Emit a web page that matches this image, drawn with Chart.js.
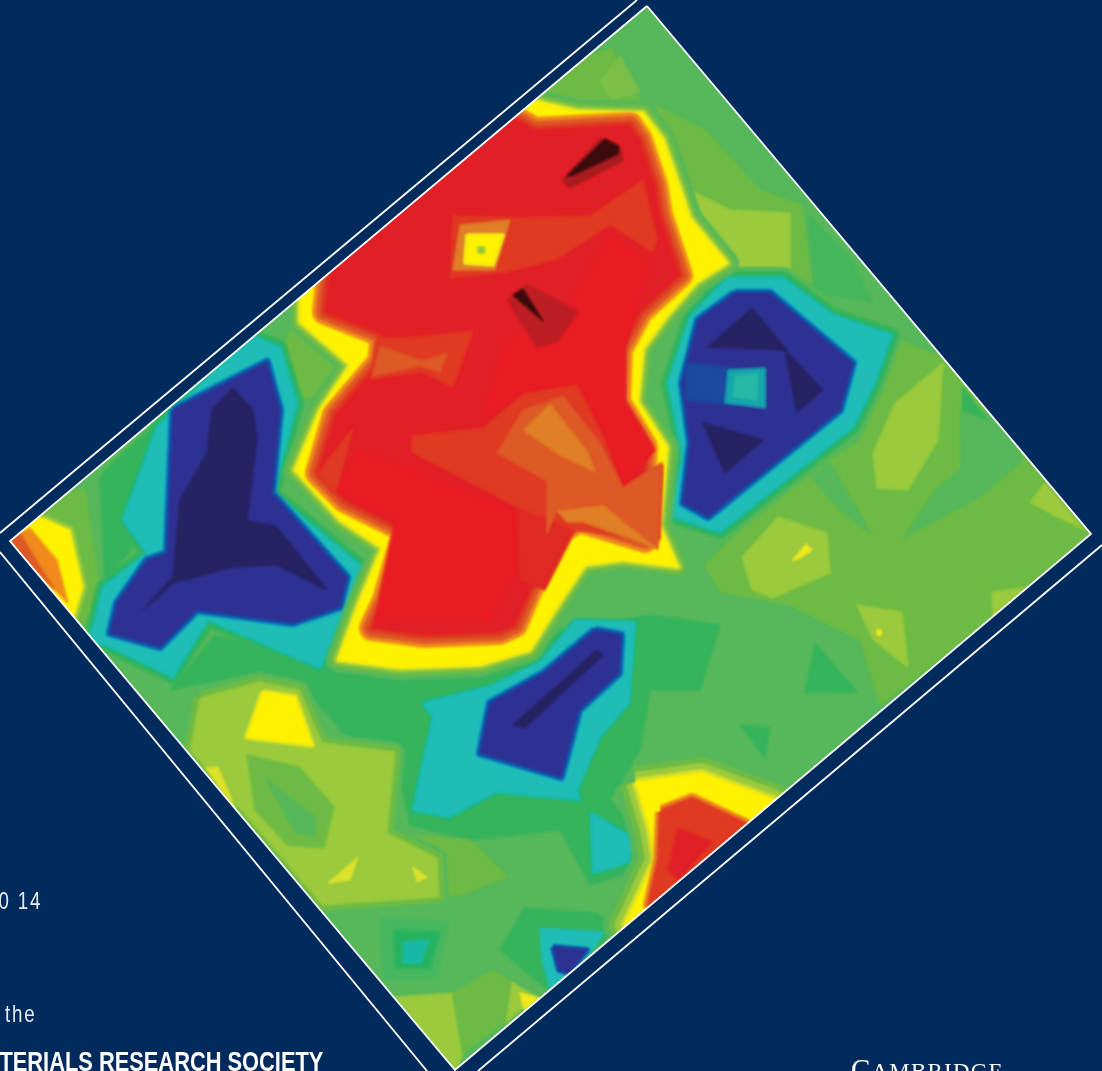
<!DOCTYPE html>
<html>
<head>
<meta charset="utf-8">
<title>Contour map cover</title>
<script src="https://cdn.jsdelivr.net/npm/chart.js@4/dist/chart.umd.min.js"></script>
<style>
html, body { margin: 0; padding: 0; background: #012b5d; overflow: hidden; }
#wrap { position: relative; width: 1102px; height: 1071px; overflow: hidden; }
#map { display: block; }
.t { position: absolute; color: #e8edf3; white-space: nowrap; }
.thin { font: 24px "Liberation Sans", sans-serif; letter-spacing: 2.4px; transform: scaleX(.78); transform-origin: right top; }
</style>
</head>
<body>
<div id="wrap">
  <canvas id="map" width="1102" height="1071"></canvas>
  <div class="t thin" style="right:1060px;top:887px">0 14</div>
  <div class="t thin" style="right:1065px;top:1000px">the</div>
  <div class="t" style="right:779px;top:1046px;color:#fff;font:bold 28px 'Liberation Sans',sans-serif;transform:scaleX(.78);transform-origin:right top">TERIALS RESEARCH SOCIETY</div>
  <div class="t" style="left:851px;top:1053px;color:#fff;font:23px 'Liberation Serif',serif;letter-spacing:1.2px"><span style="font-size:29px">C</span>AMBRIDGE</div>
</div>
<script>
// contour levels, low to high
const g1 = '#9bca3c', g2 = '#6dbb45', g3 = '#56b85b', g4 = '#35b45c';
const teal = '#1fbdb8', blueEdge = '#0d5bac', indigo = '#2e3192', darkIndigo = '#272262';
const yellow = '#fff200', amber = '#f08a1c', orange = '#e07f26', orange2 = '#dd5a26', orange3 = '#e03a22';
const red = '#e21f26', brightRed = '#e91c24', darkRed = '#bd1e24', black = '#3b0b0c';

// plot frame
const frameCorners = [[647,6],[1091,534],[455,1070],[10,541]];
const outerRuleA = [[0,533],[637,0]];
const outerRuleB = [[0,552],[427,1071]];
const outerRuleC = [[478,1071],[1102,545]];

// background levels
const basePlane = [[647,-20],[1120,534],[455,1100],[-20,541]];
const topLeftPatch = [[520,100],[575,60],[612,48],[640,100],[600,106]];
const topTip = [[600,82],[620,56],[640,92],[612,100]];
const upperRightG2 = [[655,105],[705,130],[760,190],[802,205],[812,282],[735,282],[690,225]];
const upperRightG1 = [[690,190],[730,210],[790,213],[790,268],[725,268]];
const rimG4 = [[808,215],[850,258],[872,302],[815,292]];
const rightPlane = [[705,565],[740,530],[800,480],[860,440],[898,340],[945,358],[1110,534],[880,705],[860,640],[790,605],[720,592]];
const rightG3a = [[903,538],[980,497],[1023,460],[1000,415],[960,408],[961,467],[933,493]];
const rightG4 = [[963,410],[987,420],[963,387]];
const rightG3b = [[810,477],[830,462],[872,535],[840,510]];
const rightG1a = [[895,403],[943,363],[938,440],[908,490],[877,488],[873,453]];
const rightG1b = [[1030,502],[1045,483],[1085,530],[1057,517]];
const hexG1 = [[742,557],[778,517],[827,533],[830,573],[773,598],[752,590]];
const hexSpot = [[792,561],[806,544],[812,550],[800,558]];
const lowG1 = [[857,605],[902,612],[908,667],[873,640]];
const lowDot = [[877,630],[881,630],[881,635],[877,635]];
const edgeG1 = [[992,592],[1028,587],[993,617]];
const smallG4a = [[815,643],[857,692],[805,693]];
const smallG4b = [[740,725],[770,728],[765,758]];

// far left corner
const leftG4 = [[160,420],[125,520],[132,548],[105,582],[100,480],[105,470]];
const leftG2 = [[85,490],[100,590],[85,625],[70,610],[40,515],[70,490]];
const cornerYellow = [[40,517],[70,530],[83,587],[73,620],[5,540]];
const cornerAmber = [[30,528],[57,560],[68,603],[5,540]];
const cornerOrange = [[20,533],[42,570],[55,590],[5,540]];

// lower left high ground
const lowerG1 = [[200,698],[259,682],[299,690],[322,743],[395,752],[387,833],[437,858],[439,897],[322,905],[190,750]];
const lowerG2 = [[387,833],[470,840],[508,877],[460,895],[330,912],[300,890]];
const lowerYellow = [[263,692],[295,697],[312,745],[247,737]];
const lowerPit = [[247,755],[299,767],[334,807],[324,848],[287,845],[255,810]];
const lowerPit2 = [[267,780],[316,818],[314,837],[295,832]];
const spotA = [[328,883],[358,857],[350,880]];
const spotB = [[413,867],[427,877],[417,882]];
const spotC = [[206,768],[218,767],[239,817]];
const tipG1 = [[395,997],[453,993],[463,1053],[455,1075]];
const tipG2 = [[453,993],[492,970],[512,982],[504,1023],[476,1043],[463,1053]];
const tipG1b = [[512,982],[536,997],[506,1023]];
const tipSpot = [[520,993],[540,998],[524,1010]];
const pitRing = [[380,918],[449,922],[437,978],[384,980]];
const pitG4 = [[394,930],[440,932],[430,968],[395,968]];
const pitTeal = [[403,942],[429,940],[421,963],[403,963]];
const edgeG3 = [[338,927],[362,925],[354,947]];
const holeG4 = [[524,908],[595,913],[620,927],[548,990],[500,950]];
const holeTeal = [[540,928],[605,932],[591,953],[550,990],[542,960]];
const holeIndigo = [[553,947],[587,950],[569,973],[559,970]];

// central low
const centreG4 = [[170,690],[215,635],[345,670],[530,660],[560,630],[650,615],[720,625],[700,690],[650,690],[640,750],[610,800],[635,830],[640,870],[590,885],[560,830],[470,840],[410,825],[395,760],[345,735],[315,700],[260,672],[195,685]];
const centreTeal = [[575,620],[635,622],[629,703],[600,737],[577,790],[580,800],[496,792],[449,817],[413,810],[433,717],[423,703],[488,687],[540,662]];
const sideTeal = [[591,813],[633,838],[629,862],[593,873]];
const centreIndigo = [[595,630],[621,635],[619,673],[579,710],[561,777],[480,753],[490,703],[544,673]];
const centreStreak = [[597,650],[603,655],[525,728],[513,725]];

// left low
const wedgeG2 = [[297,310],[360,350],[320,395],[297,400],[285,345]];
const leftTeal = [[250,335],[280,347],[297,403],[273,493],[362,567],[343,613],[320,668],[208,620],[173,677],[117,650],[90,640],[103,587],[147,553],[123,520],[157,427]];
const leftIndigo = [[173,410],[267,362],[280,410],[272,493],[347,577],[340,607],[293,623],[197,610],[160,647],[110,633],[117,603],[147,560],[167,553]];
const leftDark = [[233,388],[253,410],[257,440],[247,520],[277,527],[327,590],[277,565],[233,567],[173,583],[143,610],[173,577],[180,500],[207,453],[212,410]];

// right low
const rightTeal = [[727,278],[783,278],[833,315],[892,335],[873,387],[853,427],[720,532],[668,515],[683,457],[668,383],[690,317]];
const rightIndigo = [[735,293],[770,293],[853,363],[840,410],[708,517],[683,503],[690,443],[682,383],[698,320]];
const rightDarkA = [[752,308],[787,350],[708,347]];
const rightDarkB = [[785,350],[823,390],[797,412]];
const rightDarkC = [[703,423],[763,440],[725,473]];
const rightBlue = [[686,363],[735,368],[735,405],[686,400]];
const rightSquare = [[728,370],[765,368],[765,408],[725,403]];
const rightSquareIn = [[735,376],[758,374],[757,400],[733,397]];

// high ground
const highYellow = [[530,100],[577,111],[643,113],[663,139],[680,188],[690,218],[727,263],[697,282],[667,316],[643,349],[638,402],[667,447],[660,526],[678,567],[623,560],[585,565],[555,610],[530,650],[480,665],[400,668],[338,660],[360,600],[382,548],[340,520],[295,470],[320,410],[350,365],[300,322],[300,280]];
const highRed = [[500,110],[535,130],[630,125],[640,140],[655,185],[660,215],[680,275],[640,312],[620,349],[618,402],[645,447],[640,526],[645,540],[580,520],[562,530],[530,590],[515,625],[500,632],[425,635],[372,628],[385,600],[405,530],[345,500],[318,473],[335,415],[380,362],[383,335],[325,312],[330,262]];
const brightPatch = [[360,450],[515,510],[517,570],[490,620],[375,620],[395,520],[335,490]];
const brightPatchB = [[483,420],[505,340],[560,320],[610,235],[650,265],[625,350],[625,400],[655,450],[625,488],[600,430],[575,385],[523,394]];
const bandTop = [[450,278],[453,216],[520,218],[590,216],[643,180],[657,240],[653,252],[610,225],[557,259],[507,272]];
const spotRing = [[453,270],[460,225],[510,220],[495,270]];
const spotYellow = [[467,235],[503,235],[493,265],[465,263]];
const spotCore = [[478,247],[484,247],[484,253],[478,253]];
const bruise = [[507,300],[527,284],[578,312],[557,342],[537,347]];
const bruiseCore = [[513,295],[523,289],[543,321],[523,304]];
const streakHalo = [[562,180],[600,139],[620,146],[623,161],[570,188]];
const streakCore = [[567,176],[605,139],[618,146],[618,154],[573,175]];
const leftBandA = [[377,338],[407,338],[473,331],[453,387],[423,372],[370,379]];
const leftBandB = [[380,346],[423,361],[447,353],[440,372],[420,366],[373,376]];
const centreBandA = [[412,436],[483,428],[523,394],[577,385],[603,436],[623,488],[640,475],[663,465],[660,540],[575,530],[548,520],[517,507],[412,452]];
const lowerFlank = [[517,507],[575,530],[545,590],[520,580]];
const centreBandB = [[497,453],[523,410],[563,396],[600,443],[623,488],[662,462],[658,549],[600,503],[557,511],[547,534],[547,481]];
const centreBandC = [[523,430],[550,404],[587,451],[595,472],[560,455]];
const centreBandD = [[557,511],[603,505],[658,549],[583,522],[567,522]];
const flankBand = [[318,473],[353,428],[335,495]];

// bottom right high
const lowHighYellow = [[636,782],[702,773],[775,800],[740,835],[625,925],[655,860],[650,830]];
const lowHighOrange = [[662,812],[692,800],[745,825],[680,885],[650,905],[660,860]];
const lowHighRed = [[678,828],[712,842],[678,880],[668,870]];

// [points, fill, halo bands from wide to narrow]
const layers = [
  [basePlane, g3],
  [topLeftPatch, g2], [topTip, '#7cc04a'],
  [upperRightG2, g2], [upperRightG1, g1], [rimG4, '#45b65c'],
  [rightPlane, g2], [rightG3a, g3], [rightG4, g4], [rightG3b, g3], [rightG1a, g1], [rightG1b, g1],
  [hexG1, g1], [hexSpot, '#f2e91a'], [lowG1, g1], [lowDot, '#f2e91a'], [edgeG1, g1],
  [smallG4a, g4], [smallG4b, g4],
  [leftG4, g4], [leftG2, g2],
  [cornerYellow, yellow, [[g2, 18], [g1, 8]]], [cornerAmber, amber], [cornerOrange, orange2],
  [centreG4, g4],
  [lowerG2, g2],
  [lowerG1, g1, [[g3, 20], [g2, 12]]],
  [lowerYellow, yellow, [['#dbe023', 6]]], [lowerPit, g2], [lowerPit2, g3],
  [spotA, '#dde22a'], [spotB, '#dde22a'], [spotC, '#dde22a'],
  [tipG1, g1], [tipG2, g2], [tipG1b, g1], [tipSpot, '#f2e91a'],
  [pitRing, '#47b85f'], [pitG4, '#26b35f'], [pitTeal, '#17b9a6'], [edgeG3, g3],
  [holeG4, g4], [holeTeal, teal], [holeIndigo, indigo, [[blueEdge, 6]]],
  [wedgeG2, g2],
  [centreTeal, teal, [['#17b98a', 4]]], [sideTeal, teal, [['#17b98a', 4]]],
  [centreIndigo, indigo, [['#0b8ec0', 9], [blueEdge, 6]]], [centreStreak, darkIndigo],
  [leftTeal, teal, [[g4, 14], ['#17b98a', 5]]],
  [leftIndigo, indigo, [['#0b8ec0', 9], [blueEdge, 6]]], [leftDark, darkIndigo],
  [rightTeal, teal, [[g3, 22], [g4, 14], ['#17b98a', 5]]],
  [rightIndigo, indigo, [['#0b8ec0', 9], [blueEdge, 6]]],
  [rightDarkA, darkIndigo], [rightDarkB, darkIndigo], [rightDarkC, darkIndigo],
  [rightBlue, '#1b4aa0'], [rightSquare, '#16a6ad'], [rightSquareIn, '#27b9a5'],
  [lowHighYellow, yellow, [[g3, 44], [g2, 32], [g1, 20], ['#d5e02a', 8]]],
  [lowHighOrange, orange3, [[amber, 14], [orange2, 8], [orange3, 4]]], [lowHighRed, red, [[orange3, 4]]],
  [highYellow, yellow, [[g3, 24], [g2, 16], [g1, 9], ['#d5e02a', 4]]],
  [highRed, red, [[amber, 26], [orange2, 18], [orange3, 9]]],
  [brightPatch, brightRed], [brightPatchB, brightRed],
  [bandTop, orange3], [spotRing, orange], [spotYellow, yellow, [['#e9d22a', 4]]], [spotCore, '#8cc63f'],
  [bruise, darkRed], [bruiseCore, black],
  [streakHalo, '#a81c20'], [streakCore, black],
  [leftBandA, orange3], [leftBandB, orange2],
  [lowerFlank, '#df2a24'],
  [centreBandA, orange3], [centreBandB, orange2], [centreBandC, orange], [centreBandD, orange], [flankBand, orange3]
];

const toPoints = pts => pts.concat([pts[0]]).map(p => ({ x: p[0], y: p[1] }));

const datasets = [];
layers.forEach(l => {
  (l[2] || []).forEach(h => {
    datasets.push({ data: toPoints(l[0]), showLine: true, fill: false, borderColor: h[0], borderWidth: h[1], borderJoinStyle: 'round', pointRadius: 0 });
  });
  datasets.push({ data: toPoints(l[0]), showLine: true, fill: 'shape', backgroundColor: l[1], borderColor: l[1], borderWidth: 1, borderJoinStyle: 'round', pointRadius: 0 });
});
// chart.js paints the highest order first
datasets.forEach((d, i) => { d.order = datasets.length - i; });

const softMap = {
  id: 'softMap',
  beforeDatasetsDraw(chart) {
    const { ctx, scales: { x, y } } = chart;
    ctx.save();
    ctx.beginPath();
    frameCorners.forEach((p, i) => {
      const px = x.getPixelForValue(p[0]), py = y.getPixelForValue(p[1]);
      if (i === 0) ctx.moveTo(px, py); else ctx.lineTo(px, py);
    });
    ctx.closePath();
    ctx.clip();
    ctx.filter = 'blur(1.2px)';
  },
  afterDatasetsDraw(chart) {
    const { ctx, scales: { x, y } } = chart;
    ctx.filter = 'none';
    ctx.restore();
    const rule = (pts, w) => {
      ctx.beginPath();
      pts.forEach((p, i) => {
        const px = x.getPixelForValue(p[0]), py = y.getPixelForValue(p[1]);
        if (i === 0) ctx.moveTo(px, py); else ctx.lineTo(px, py);
      });
      ctx.lineWidth = w;
      ctx.strokeStyle = '#ffffff';
      ctx.stroke();
    };
    rule(frameCorners.concat([frameCorners[0]]), 1.8);
    rule(outerRuleA, 1.8);
    rule(outerRuleB, 1.8);
    rule(outerRuleC, 1.8);
  }
};

new Chart(document.getElementById('map'), {
  type: 'scatter',
  data: { datasets: datasets },
  plugins: [softMap],
  options: {
    responsive: false,
    devicePixelRatio: 1,
    animation: false,
    layout: { padding: 0 },
    plugins: { legend: { display: false }, tooltip: { enabled: false } },
    scales: {
      x: { type: 'linear', min: 0, max: 1102, display: false },
      y: { type: 'linear', min: 0, max: 1071, reverse: true, display: false }
    }
  }
});
</script>
</body>
</html>
